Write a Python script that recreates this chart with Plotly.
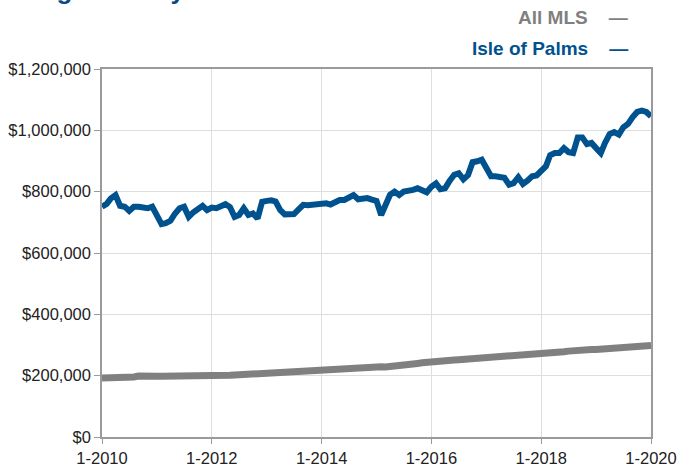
import pandas as pd
import plotly.graph_objects as go

# Monthly data, Jan 2010 .. Jan 2020
months = pd.date_range("2010-01-01", periods=121, freq="MS")

isle_of_palms = [
    751, 760, 778, 789, 754, 751, 737, 751, 751, 749, 746, 751,
    724, 694, 697, 705, 728, 746, 751, 718, 733, 745, 754, 740,
    748, 746, 752, 759, 750, 718, 724, 746, 724, 729, 713, 767,
    770, 772, 768, 740, 726, 729, 727, 742, 757, 756, 757, 756,
    757, 762, 758, 765, 773, 773, 782, 789, 775, 778, 779, 774,
    770, 724, 762, 790, 800, 789, 800, 802, 806, 811, 805, 798,
    816, 827, 808, 811, 835, 855, 860, 840, 854, 896, 899, 904,
    877, 850, 850, 847, 845, 823, 828, 847, 825, 836, 850, 853,
    868, 883, 919, 926, 926, 942, 929, 926, 977, 977, 955, 959,
    942, 926, 959, 988, 994, 986, 1010, 1021, 1043, 1060, 1064, 1060,
    1046,
]
isle_of_palms = [v * 1000 for v in isle_of_palms]

all_mls = [
    192, 192, 192, 192, 193, 193, 194, 196, 199, 200, 199, 199,
    198, 198, 198, 199, 199, 199, 198, 197, 196, 196, 197, 198,
    198, 199, 199, 200, 201, 202, 203, 204, 204, 205, 205, 206,
    207, 208, 209, 210, 211, 212, 213, 214, 215, 216, 217, 219,
    220, 221, 222, 223, 224, 225, 226, 227, 228, 228, 229, 229,
    229, 229, 228, 229, 230, 232, 234, 236, 238, 240, 242, 244,
    246, 247, 248, 249, 250, 251, 252, 253, 253, 254, 254, 255,
    256, 257, 258, 260, 262, 264, 265, 266, 267, 268, 269, 270,
    271, 272, 273, 274, 276, 278, 280, 282, 283, 284, 284, 285,
    285, 286, 287, 288, 289, 290, 291, 292, 293, 294, 295, 296,
    298,
]
all_mls = [v * 1000 for v in all_mls]

x_tick_dates = ["2010-01-01", "2012-01-01", "2014-01-01", "2016-01-01", "2018-01-01", "2020-01-01"]
x_tick_labels = ["1-2010", "1-2012", "1-2014", "1-2016", "1-2018", "1-2020"]
y_tick_vals = [0, 200000, 400000, 600000, 800000, 1000000, 1200000]

title_text = "Single-Family Detached"
series_names = ["All MLS", "Isle of Palms"]

BLUE = "#00528f"
GRAY = "#808080"

fig = go.Figure()
fig.add_trace(go.Scatter(x=months, y=all_mls, mode="lines", name=series_names[0],
                         line=dict(color=GRAY, width=7)))
fig.add_trace(go.Scatter(x=months, y=isle_of_palms, mode="lines", name=series_names[1],
                         line=dict(color=BLUE, width=6)))

axis_font = dict(family="Liberation Sans, Arial, sans-serif", size=16.5, color="#222222")

fig.update_layout(
    width=678, height=466,
    margin=dict(l=102, r=27, t=69, b=29),
    paper_bgcolor="white", plot_bgcolor="white",
    showlegend=False,
    xaxis=dict(
        range=[months[0], months[-1]],
        tickvals=x_tick_dates, ticktext=x_tick_labels,
        showgrid=True, gridcolor="#dedede", gridwidth=1,
        showline=True, linecolor="#9a9a9a", linewidth=1.5, mirror=True,
        ticks="outside", ticklen=5, tickcolor="#9a9a9a",
        tickfont=axis_font, zeroline=False, automargin=False,
    ),
    yaxis=dict(
        range=[0, 1200000],
        tickvals=y_tick_vals, tickformat="$,.0f",
        showgrid=True, gridcolor="#dedede", gridwidth=1,
        showline=True, linecolor="#9a9a9a", linewidth=1.5, mirror=True,
        ticks="outside", ticklen=6, tickcolor="#9a9a9a",
        tickfont=axis_font, zeroline=False, automargin=False,
    ),
)

legend_font = "Liberation Sans Narrow, Arial Narrow, Liberation Sans, sans-serif"
legend_x = (630 - 102) / 549
fig.add_annotation(xref="paper", yref="paper", x=legend_x, y=1 + (69 - 17) / 368,
                   xanchor="right", yanchor="middle", showarrow=False,
                   text="<b>" + series_names[0] + "&nbsp;&nbsp;&nbsp;&nbsp;—</b>",
                   font=dict(family=legend_font, size=19, color=GRAY))
fig.add_annotation(xref="paper", yref="paper", x=legend_x, y=1 + (69 - 49) / 368,
                   xanchor="right", yanchor="middle", showarrow=False,
                   text="<b>" + series_names[1] + "&nbsp;&nbsp;&nbsp;&nbsp;—</b>",
                   font=dict(family=legend_font, size=19, color=BLUE))
# Title, cut off at the top of the image (as in the source)
fig.add_annotation(xref="paper", yref="paper", x=(14 - 102) / 549, y=1 + (69 - 7) / 368,
                   xanchor="left", yanchor="bottom", showarrow=False,
                   text="<b>" + title_text + "</b>",
                   font=dict(family="Liberation Sans, Arial, sans-serif", size=26, color="#0b4a80"))

fig.write_html("out.html",
               config={"displayModeBar": False},
               post_script="document.body.style.margin='0';document.body.style.overflow='hidden';")
